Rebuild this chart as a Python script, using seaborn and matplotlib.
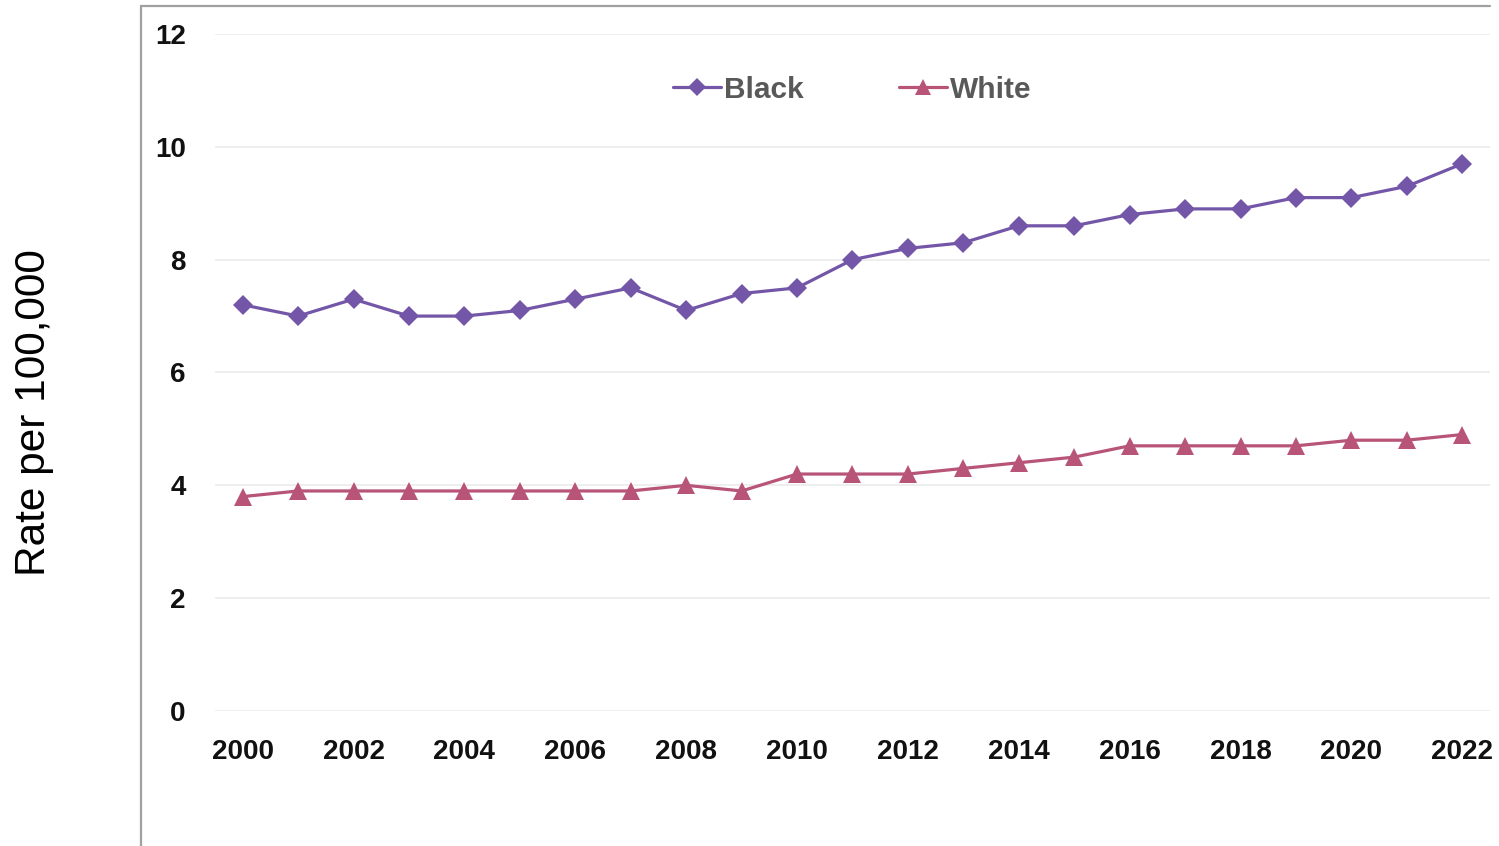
import matplotlib
matplotlib.use("Agg")
import matplotlib.pyplot as plt
import seaborn as sns
import pandas as pd
from matplotlib.lines import Line2D

years = list(range(2000, 2023))
black = [7.2, 7.0, 7.3, 7.0, 7.0, 7.1, 7.3, 7.5, 7.1, 7.4, 7.5, 8.0, 8.2, 8.3,
         8.6, 8.6, 8.8, 8.9, 8.9, 9.1, 9.1, 9.3, 9.7]
white = [3.8, 3.9, 3.9, 3.9, 3.9, 3.9, 3.9, 3.9, 4.0, 3.9, 4.2, 4.2, 4.2, 4.3,
         4.4, 4.5, 4.7, 4.7, 4.7, 4.7, 4.8, 4.8, 4.9]
series_names = ["Black", "White"]
colors = {"Black": "#7456A8", "White": "#B85478"}
y_ticks = [0, 2, 4, 6, 8, 10, 12]
x_ticks = list(range(2000, 2023, 2))

df = pd.DataFrame({
    "Year": years * 2,
    "Rate": black + white,
    "Race": ["Black"] * len(years) + ["White"] * len(years),
})

sns.set_theme(style="white")
plt.rcParams["font.family"] = ["Liberation Sans", "DejaVu Sans"]

fig = plt.figure(figsize=(14.99, 8.46), dpi=100)
ax = fig.add_axes([0.1434, 0.1596, 0.8506, 0.8002])

sns.lineplot(data=df[df["Race"] == "Black"], x="Year", y="Rate",
             color=colors["Black"], marker="D", markersize=10.5, markeredgewidth=0,
             linewidth=2.3, ax=ax, legend=False)
sns.lineplot(data=df[df["Race"] == "White"], x="Year", y="Rate",
             color=colors["White"], marker="^", markersize=12.5, markeredgewidth=0,
             linewidth=2.3, ax=ax, legend=False)

ax.set_xlim(1999.5, 2022.5)
ax.set_ylim(0, 12)
ax.set_xticks(x_ticks)
ax.set_yticks(y_ticks)
ax.set_xticklabels([str(t) for t in x_ticks], fontsize=20, fontweight="bold", color="#111111")
ax.set_yticklabels([str(t) for t in y_ticks], fontsize=20, fontweight="bold", color="#111111")
ax.tick_params(axis="x", length=0, pad=20)
ax.tick_params(axis="y", length=0, pad=21)
ax.grid(axis="y", color="#EDEDED", linewidth=1.3)
ax.grid(axis="x", visible=False)
for s in ax.spines.values():
    s.set_visible(False)
ax.set_xlabel("")
ax.set_ylabel("")

handles = [
    Line2D([0], [0], color=colors["Black"], marker="D", markersize=9, linewidth=2.3, markeredgewidth=0),
    Line2D([0], [0], color=colors["White"], marker="^", markersize=11, linewidth=2.3, markeredgewidth=0),
]
leg = ax.legend(handles, series_names, loc="center", bbox_to_anchor=(0.500, 0.918),
                ncol=2, frameon=False, handlelength=1.6, handletextpad=0.1,
                columnspacing=3.2, prop={"size": 21.5, "weight": "bold"})
for t in leg.get_texts():
    t.set_color("#595959")

fig.text(0.023, 0.512, "Rate per 100,000", rotation=90, ha="center", va="center",
         fontsize=30.5, color="#000000")

# outer slide frame (left and top edges)
fig.add_artist(Line2D([141 / 1499, 141 / 1499], [0, 1 - 6 / 846], transform=fig.transFigure,
                      color="#A0A0A0", linewidth=1.6))
fig.add_artist(Line2D([141 / 1499, 1490 / 1499], [1 - 6 / 846, 1 - 6 / 846], transform=fig.transFigure,
                      color="#A0A0A0", linewidth=1.6))

fig.savefig("out.png", dpi=100)
